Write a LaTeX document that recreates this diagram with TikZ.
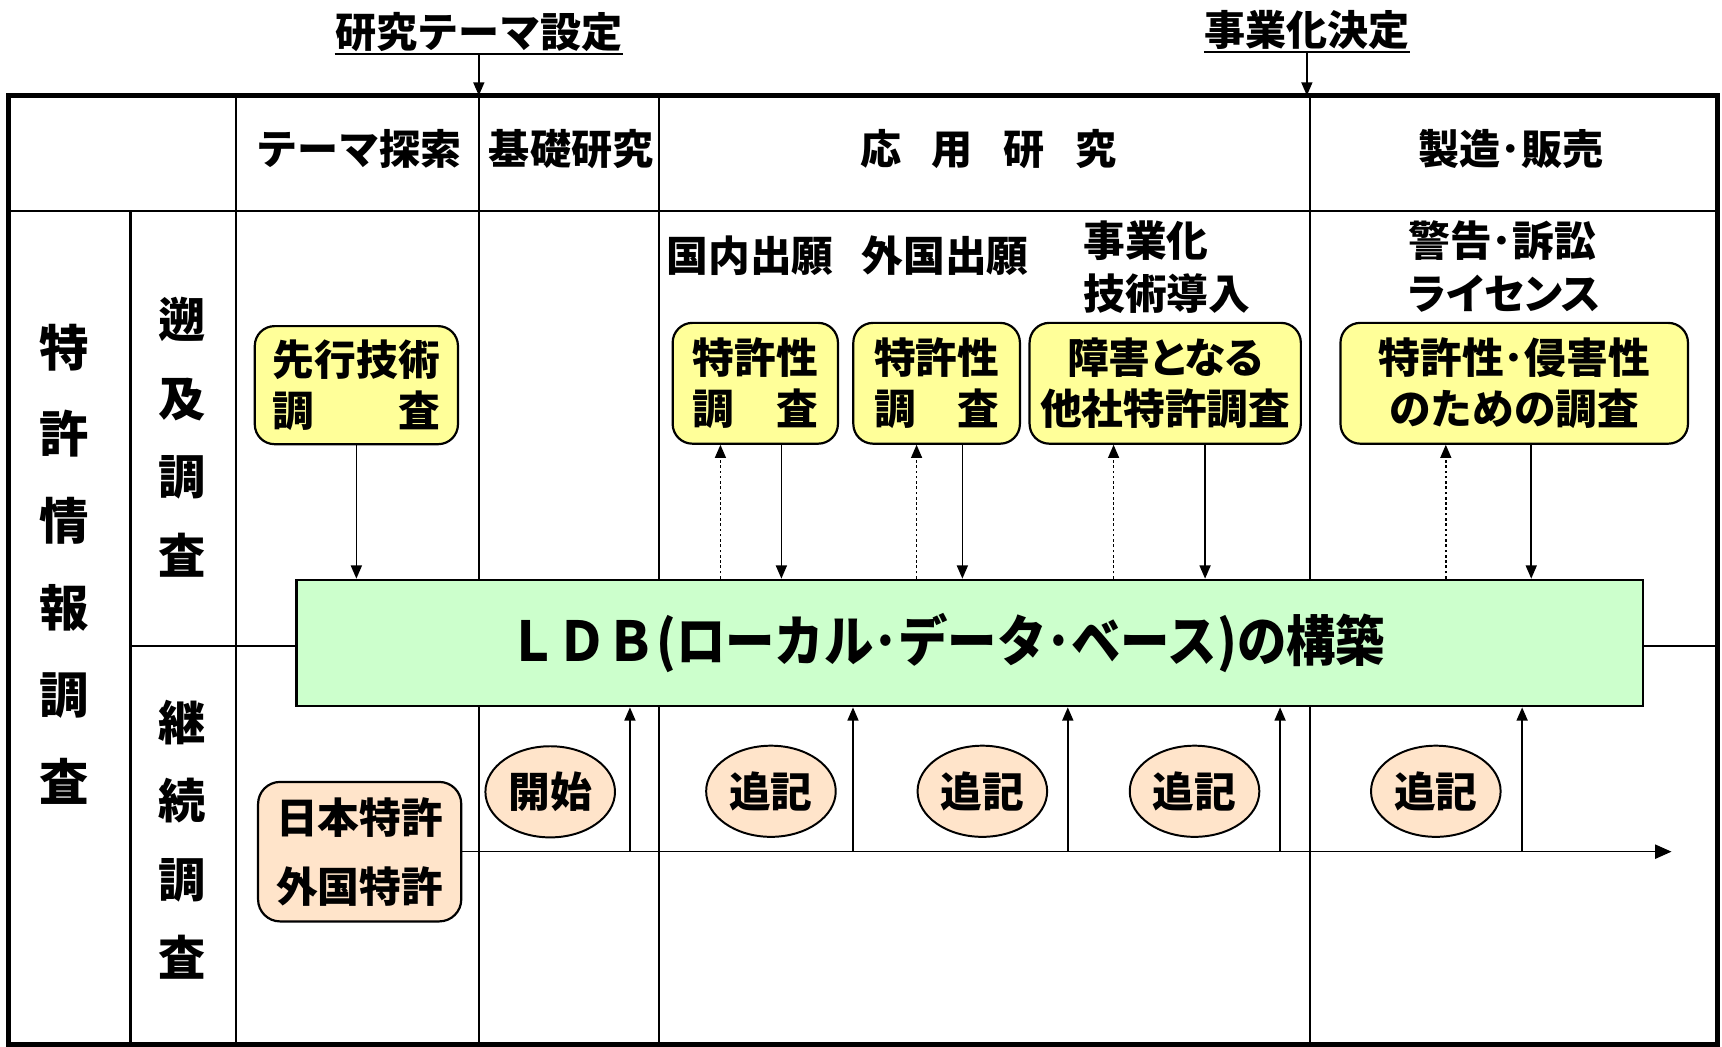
\documentclass[tikz,border=0pt]{standalone}
\usepackage{fontspec}
\usepackage{graphicx}
\setmainfont{Noto Sans CJK JP}
\newfontfamily\jpp{Noto Sans CJK JP}[RawFeature=+palt]
\usetikzlibrary{shapes.geometric,arrows.meta}
\definecolor{yfill}{HTML}{FFFF99}
\definecolor{gfill}{HTML}{CCFFCC}
\definecolor{pfill}{HTML}{FFE4CA}
\begin{document}
\begin{tikzpicture}[x=0.5pt,y=-0.5pt,
  every node/.style={inner sep=0pt},
  ttl/.style={font=\bfseries\fontsize{18.7}{20}\selectfont, inner ysep=1pt},
  hd/.style={font=\bfseries\fontsize{18.7}{20}\selectfont},
  lbl/.style={font=\bfseries\fontsize{19}{24}\selectfont},
  frame/.style={line width=2.25pt},
  gridl/.style={line width=1.1pt},
  conn/.style={line width=0.7pt},
  tipd/.style={-{Triangle[length=6pt,width=5pt]}},
  tipb/.style={-{Triangle[length=7.5pt,width=6.5pt]}},
  ybox/.style={draw, line width=1pt, fill=yfill, rounded corners=9pt, align=center,
    font=\bfseries\fontsize{19}{23}\selectfont},
  ell/.style={ellipse, draw, line width=0.9pt, fill=pfill, minimum width=59pt,
    minimum height=41.5pt, font=\bfseries\fontsize{19}{19}\selectfont}
]
\useasboundingbox (0,0) rectangle (1568,953);

% titles
\node[ttl] (t1) at (436,29) {研究テーマ設定};
\node[ttl] (t2) at (1190,27) {事業化決定};
\draw[line width=1pt] (t1.south west) -- (t1.south east);
\draw[line width=1pt] (t2.south west) -- (t2.south east);
\coordinate (f1) at (436,87);
\coordinate (f2) at (1190,87);
\draw[conn,tipd] (t1.south) -- (f1);
\draw[conn,tipd] (t2.south) -- (f2);

% table grid
\draw[gridl] (8,192) -- (1564,192);
\draw[gridl] (119,192) -- (119,951);
\draw[gridl] (215,87) -- (215,951);
\draw[gridl] (436,87) -- (436,951);
\draw[gridl] (600,87) -- (600,951);
\draw[gridl] (1193,87) -- (1193,951);
\draw[gridl] (119,588) -- (1564,588);
\draw[frame] (8,87) rectangle (1564,951);

% header texts
\node[hd] (h1) at (327,136) {テーマ探索};
\node[hd] (h2) at (520,136) {基礎研究};
\node[hd] (h3) at (900,136) {応\hspace{0.75em}用\hspace{0.75em}研\hspace{0.75em}究};
\node[hd] (h4) at (1376,136) {製造･販売};

% side labels
\node[align=center, font=\bfseries\fontsize{22.5}{39.5}\selectfont] (s1) at (58.5,513.5) {特\\許\\情\\報\\調\\査};
\node[align=center, font=\bfseries\fontsize{21.5}{35.7}\selectfont] (s2) at (165.5,398) {遡\\及\\調\\査};
\node[align=center, font=\bfseries\fontsize{21.5}{35.7}\selectfont] (s3) at (166,764.5) {継\\続\\調\\査};

% labels above boxes
\node[lbl] (l1) at (683,233) {国内出願};
\node[lbl] (l2) at (860.5,233) {外国出願};
\node[lbl, align=left, anchor=west] (l3) at (986,243) {事業化\\技術導入};
\node[lbl, align=left, anchor=west] (l4) at (1282,243) {警告･訴訟\\{\jpp ライセンス}};

% yellow boxes
\node[ybox, minimum width=92.5pt, minimum height=53.75pt] (b0) at (324.5,350.7) {先行技術\\調　　査};
\node[ybox, minimum width=75.25pt, minimum height=55pt] (b1) at (687.75,349) {特許性\\調　査};
\node[ybox, minimum width=75.85pt, minimum height=55pt] (b2) at (852.85,349) {特許性\\調　査};
\node[ybox, minimum width=123.5pt, minimum height=55pt] (b3) at (1061,349) {{\jpp 障害となる}\\他社特許調査};
\node[ybox, minimum width=158.2pt, minimum height=55pt] (b4) at (1378.8,349) {特許性･侵害性\\のための調査};

% LDB
\node[draw, line width=1.1pt, fill=gfill, minimum width=613pt, minimum height=57.5pt,
  font=\bfseries\fontsize{25}{25}\selectfont] (ldb) at (883,585.5)
  {\raisebox{-2.5pt}{\scalebox{0.9}[1]{ＬＤＢ(ローカル･データ･ベース)の構築}}\rule{21pt}{0pt}};

% bottom box and ellipses
\node[draw, line width=1pt, fill=pfill, rounded corners=10pt, align=center,
  minimum width=92.5pt, minimum height=63.5pt,
  font=\bfseries\fontsize{19}{31.5}\selectfont] (jp) at (327.5,775.5) {日本特許\\外国特許};
\node[ell] (e0) at (501,721) {開始};
\node[ell] (e1) at (702,720.5) {追記};
\node[ell] (e2) at (894.5,720.5) {追記};
\node[ell] (e3) at (1087.7,720.5) {追記};
\node[ell] (e4) at (1307.4,720.5) {追記};

% connectors top
\draw[conn,tipd] (b0.south) -- (b0.south |- ldb.north);
\coordinate (a1) at (656,0);
\coordinate (a2) at (711.5,0);
\coordinate (a3) at (834.6,0);
\coordinate (a4) at (876.3,0);
\coordinate (a5) at (1014,0);
\coordinate (a6) at (1097.3,0);
\coordinate (a7) at (1316.5,0);
\coordinate (a8) at (1394.3,0);
\draw[conn,tipd,dash pattern=on 1.2pt off 1.2pt] (ldb.north -| a1) -- (b1.south -| a1);
\draw[conn,tipd] (b1.south -| a2) -- (ldb.north -| a2);
\draw[conn,tipd,dash pattern=on 1.2pt off 1.2pt] (ldb.north -| a3) -- (b2.south -| a3);
\draw[conn,tipd] (b2.south -| a4) -- (ldb.north -| a4);
\draw[conn,tipd,dash pattern=on 1.2pt off 1.2pt] (ldb.north -| a5) -- (b3.south -| a5);
\draw[conn,tipd] (b3.south -| a6) -- (ldb.north -| a6);
\draw[conn,tipd,dash pattern=on 1.2pt off 1.2pt] (ldb.north -| a7) -- (b4.south -| a7);
\draw[conn,tipd] (b4.south -| a8) -- (ldb.north -| a8);

% timeline
\coordinate (tl) at (1522,775.5);
\draw[conn,tipb] (jp.east) -- (tl);
\coordinate (u1) at (573.6,775.5);
\coordinate (u2) at (776.7,775.5);
\coordinate (u3) at (972.3,775.5);
\coordinate (u4) at (1165.6,775.5);
\coordinate (u5) at (1386,775.5);
\draw[conn,tipd] (u1) -- (u1 |- ldb.south);
\draw[conn,tipd] (u2) -- (u2 |- ldb.south);
\draw[conn,tipd] (u3) -- (u3 |- ldb.south);
\draw[conn,tipd] (u4) -- (u4 |- ldb.south);
\draw[conn,tipd] (u5) -- (u5 |- ldb.south);
\end{tikzpicture}
\end{document}
